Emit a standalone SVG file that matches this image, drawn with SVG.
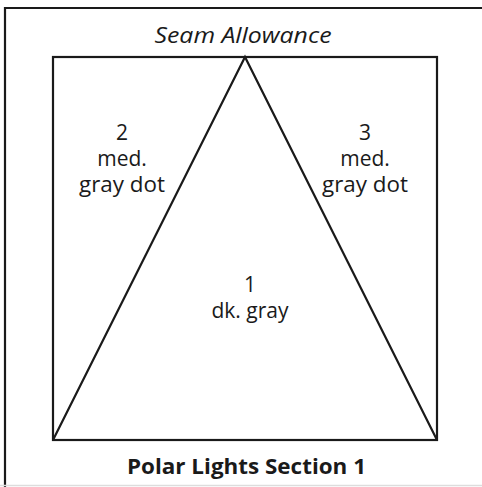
<svg xmlns="http://www.w3.org/2000/svg" width="482" height="487" viewBox="0 0 482 487">
<style>
.ln{fill:none;stroke:#1a1a1a;stroke-width:2.2;stroke-linejoin:miter}
.t{font-family:"Open Sans","Noto Sans",sans-serif;font-size:21px;fill:#1a1a1a;text-anchor:middle}
</style>
<rect x="0" y="0" width="482" height="487" fill="#fff"/>
<g id="frame">
<path class="ln" d="M5,487 V8 H482"/>
<line x1="0" y1="485.5" x2="482" y2="485.5" stroke="#ddd" stroke-width="1.5"/>
<text class="t" x="243" y="43" font-style="italic" font-size="23.5" textLength="177" lengthAdjust="spacingAndGlyphs">Seam Allowance</text>
</g>
<g id="block">
<rect class="ln" x="53" y="57" width="384" height="383"/>
</g>
<g id="connectors">
<path class="ln" d="M53,440 L245,57 L437,440"/>
</g>
<g id="piece2">
<text class="t" x="122" y="140">2</text>
<text class="t" x="122" y="166">med.</text>
<text class="t" x="122" y="192" textLength="86" lengthAdjust="spacingAndGlyphs">gray dot</text>
</g>
<g id="piece3">
<text class="t" x="365" y="140">3</text>
<text class="t" x="365" y="166">med.</text>
<text class="t" x="365" y="192" textLength="86" lengthAdjust="spacingAndGlyphs">gray dot</text>
</g>
<g id="piece1">
<text class="t" x="250" y="292">1</text>
<text class="t" x="250" y="318">dk. gray</text>
</g>
<g id="title">
<text class="t" x="246.5" y="474" font-weight="bold" font-size="23.5" textLength="239" lengthAdjust="spacingAndGlyphs">Polar Lights Section 1</text>
</g>
</svg>
